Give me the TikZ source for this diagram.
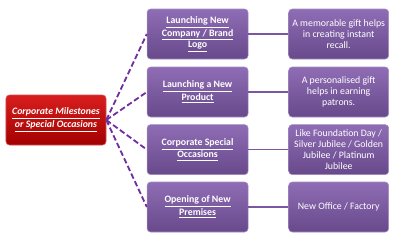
\documentclass[tikz,border=0pt]{standalone}
\usepackage{fontspec}
\setmainfont{Carlito}
\usepackage{xcolor}
\usetikzlibrary{positioning}

\definecolor{redbox}{HTML}{C00000}
\definecolor{redtop}{HTML}{D81E1E}
\definecolor{purplebox}{HTML}{7A56A3}
\definecolor{purpletop}{HTML}{8F6DB5}
\definecolor{purpleline}{HTML}{7030A0}
\definecolor{purpleedge}{HTML}{A58CC4}

\begin{document}
\begin{tikzpicture}[
  node distance=1cm,
  base/.style={rounded corners=2.5pt, align=center, text=white,
               font=\fontsize{7}{7.9}\selectfont\bfseries,
               minimum width=2.5cm, minimum height=1.25cm, inner sep=1pt},
  rootbox/.style={base, draw=redbox!70!white, top color=redtop, bottom color=redbox!85!black,
                  font=\fontsize{7}{7.9}\selectfont\bfseries\itshape},
  topicbox/.style={base, draw=purpleedge, top color=purpletop, bottom color=purplebox!85!black,
                   minimum width=2.525cm},
  notebox/.style={base, draw=purpleedge, top color=purpletop, bottom color=purplebox!85!black,
                  font=\fontsize{7}{7.9}\selectfont},
  dashlink/.style={draw=purpleline, line width=1.3pt, dash pattern=on 4pt off 2pt},
  link/.style={draw=purplebox, line width=0.8pt}]
  \useasboundingbox (0,0) rectangle (10,-6.05);
  \node[rootbox] (root) at (1.4,-3) {\underline{Corporate Milestones}\\\underline{or Special Occasions}};
  \node[topicbox] (t1) at (4.94,-0.85) {\underline{Launching New}\\\underline{Company / Brand}\\\underline{Logo}};
  \node[topicbox] (t2) at (4.94,-2.3) {\underline{Launching a New}\\\underline{Product}};
  \node[topicbox] (t3) at (4.94,-3.74) {\underline{Corporate Special}\\\underline{Occasions}};
  \node[topicbox] (t4) at (4.94,-5.175) {\underline{Opening of New}\\\underline{Premises}};
  \node[notebox, right=of t1] (n1) {A memorable gift helps\\in creating instant\\recall.};
  \node[notebox, right=of t2] (n2) {A personalised gift\\helps in earning\\patrons.};
  \node[notebox, right=of t3] (n3) {Like Foundation Day /\\Silver Jubilee / Golden\\Jubilee / Platinum\\Jubilee};
  \node[notebox, right=of t4] (n4) {New Office / Factory};
  \foreach \i in {1,...,4} {
    \draw[dashlink] (root.east) -- (t\i.west);
    \draw[link] (t\i.east) -- (n\i.west);
  }
\end{tikzpicture}
\end{document}
